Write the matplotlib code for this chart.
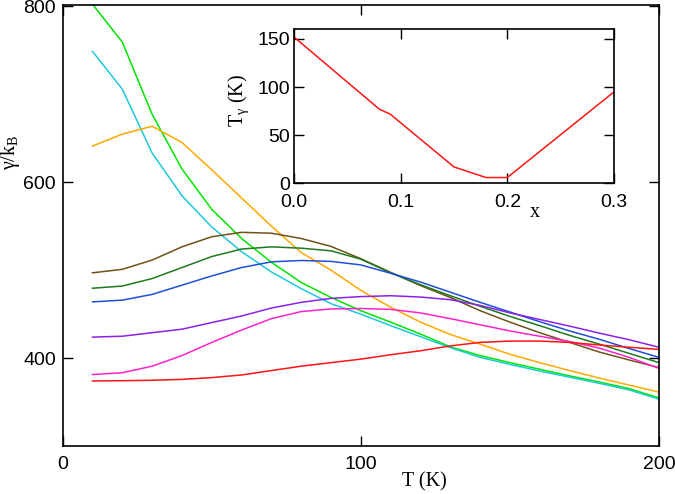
import matplotlib
matplotlib.use("Agg")
import matplotlib.pyplot as plt

plt.rcParams['font.family'] = ['Liberation Sans', 'DejaVu Sans']
plt.rcParams['mathtext.fontset'] = 'custom'
plt.rcParams['mathtext.rm'] = 'Liberation Serif'
plt.rcParams['mathtext.it'] = 'Liberation Serif:italic'

# ---- data ----
T = [10, 20, 30, 40, 50, 60, 70, 80, 90, 100, 110, 120, 130, 140, 150, 160, 170, 180, 190, 200]

gamma_green = [802, 759, 677, 615, 569, 536, 509, 486, 469, 454, 441, 427.5, 413, 403, 395, 387.5, 380, 373, 365.5, 355]
gamma_cyan = [748.5, 705.5, 633, 584.5, 549, 521, 498, 479, 462, 450, 437, 424.5, 412, 401, 393, 385.5, 378.5, 371.5, 364, 353.5]
gamma_orange = [641, 654.5, 663.5, 645, 614, 582, 550, 520, 500, 477, 458, 441, 427, 416, 404.5, 395, 386, 377.5, 369.5, 361.5]
gamma_brown = [497, 501, 511.5, 526.5, 538, 543, 542, 536, 527, 513, 497.5, 482.5, 469, 454, 441, 429, 418, 407, 398, 389.5]
gamma_dkgreen = [479.5, 482, 490.5, 503, 515.5, 524, 526.5, 525, 522, 512.5, 497, 483.5, 471, 459, 447.5, 437, 426, 416, 405.5, 395]
gamma_blue = [464, 466, 472.5, 483, 493.5, 503, 509.5, 511, 510, 506, 496.5, 486.5, 475, 463.5, 452.5, 441.5, 431, 421.5, 411, 401]
gamma_purple = [424, 425, 429, 433, 440.5, 448, 457, 463.5, 468, 470, 471, 469.5, 466.5, 460, 451.5, 444, 436.5, 428.5, 421, 412.5]
gamma_magenta = [381.5, 383.5, 391, 403, 418, 432, 445, 453, 456, 456.5, 455.5, 451.5, 445, 438, 431, 425, 419, 411.5, 401, 388.5]
gamma_red = [374.2, 374.5, 375, 376, 378, 381, 386, 391, 395, 399, 404, 408.5, 414, 418, 419.5, 419.5, 418, 415, 412.5, 410]

x_conc = [0.0, 0.08, 0.09, 0.15, 0.18, 0.20, 0.30]
T_gamma = [152, 77, 72, 17, 6, 6, 95]

x_ticks = [0, 100, 200]
y_ticks = [400, 600, 800]
inset_x_ticks = [0.0, 0.1, 0.2, 0.3]
inset_y_ticks = [0, 50, 100, 150]

series = [
    (gamma_green, '#00e600'),
    (gamma_cyan, '#1ec8d8'),
    (gamma_orange, '#ffa800'),
    (gamma_brown, '#6e5218'),
    (gamma_dkgreen, '#1e7a1e'),
    (gamma_blue, '#1f4fd8'),
    (gamma_purple, '#8b22e6'),
    (gamma_magenta, '#ff22cc'),
    (gamma_red, '#ff1414'),
]

fig = plt.figure(figsize=(6.75, 4.94), dpi=100)
ax = fig.add_axes([62.7/675, 1-446.3/494, (659-62.7)/675, (446.3-4.7)/494])
for vals, c in series:
    ax.plot(T, vals, color=c, lw=1.1)

ax.set_xlim(0, 200)
ax.set_ylim(300, 801.5)
ax.set_xticks(x_ticks)
ax.set_yticks(y_ticks)
ax.tick_params(direction='in', length=7, width=1, top=True, right=True,
               labelsize=14, colors='black')
ax.tick_params(axis='x', pad=7)
ax.tick_params(axis='y', pad=5)
for s in ax.spines.values():
    s.set_linewidth(1.2)
ax.set_xlabel('T (K)', family=['Liberation Serif'], fontsize=14.5)
ax.xaxis.set_label_coords((424-62.7)/(659-62.7), (446.3-472)/(446.3-4.7))
ax.set_ylabel(r'γ/k$_\mathrm{B}$', family=['Liberation Serif'], fontsize=14.5)
ax.yaxis.set_label_coords((22-62.7)/(659-62.7), (446.3-152)/(446.3-4.7))

# ---- inset ----
axi = fig.add_axes([294/675, 1-183.3/494, (614-294)/675, (183.3-29.3)/494])
axi.plot(x_conc, T_gamma, color='#ff1414', lw=1.1)
axi.set_xlim(0, 0.3)
axi.set_ylim(0, 160)
axi.set_xticks(inset_x_ticks)
axi.set_xticklabels(['0.0', '0.1', '0.2', '0.3'])
axi.set_yticks(inset_y_ticks)
axi.tick_params(direction='in', length=7, width=1, top=True, right=True,
                labelsize=14, colors='black')
axi.tick_params(axis='x', pad=8)
axi.tick_params(axis='y', pad=3)
for s in axi.spines.values():
    s.set_linewidth(1.2)
axi.set_xlabel('x', family=['Liberation Serif'], fontsize=14.5)
axi.xaxis.set_label_coords((535-294)/320, (183.3-203)/154)
axi.set_ylabel(r'T$_\mathrm{γ}$ (K)', family=['Liberation Serif'], fontsize=14.5)
axi.yaxis.set_label_coords((251-294)/320, (183.3-100)/154)

fig.savefig('out.png', dpi=100)
